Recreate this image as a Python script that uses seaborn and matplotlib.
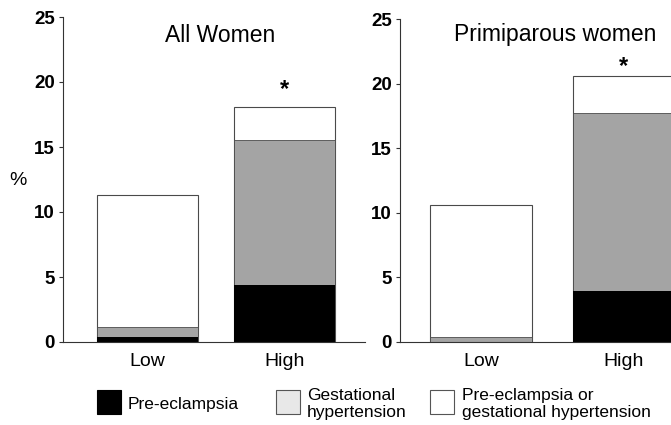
import numpy as np
import pandas as pd
import matplotlib
matplotlib.use('Agg')
import matplotlib.pyplot as plt
from matplotlib.patches import Rectangle
import seaborn as sns

# ---------------------------------------------------------------------------
# data (percent)
# ---------------------------------------------------------------------------
groups = ['Low', 'High']

all_pre_eclampsia = [0.35, 4.35]
all_gestational = [0.83, 11.2]
all_total = [11.3, 18.05]          # pre-eclampsia or gestational hypertension

prim_pre_eclampsia = [0.0, 3.95]
prim_gestational = [0.36, 13.75]
prim_total = [10.6, 20.6]

y_ticks = [0, 5, 10, 15, 20, 25]

# ---------------------------------------------------------------------------
# style
# ---------------------------------------------------------------------------
sns.set_theme(style='white')
plt.rcParams['font.family'] = ['Liberation Sans', 'DejaVu Sans']
plt.rcParams['text.color'] = 'black'
plt.rcParams['xtick.color'] = 'black'
plt.rcParams['ytick.color'] = 'black'
plt.rcParams['xtick.labelcolor'] = 'black'
plt.rcParams['ytick.labelcolor'] = 'black'

W, H = 671, 425
fig = plt.figure(figsize=(W / 100, H / 100), dpi=100)


def fx(px):
    return px / W


def fy(py):
    return 1 - py / H


BAR_GREY = '#a4a4a4'
EDGE = '#4a4a4a'


def draw_panel(ax, pe, gh, total, width, title, title_xy, star_xy, xlim):
    df = pd.DataFrame({'group': groups,
                       'pe': pe,
                       'pe_gh': np.add(pe, gh),
                       'total': total})
    # back to front: total (white), gestational on top of pre-eclampsia (grey), pre-eclampsia (black)
    sns.barplot(data=df, x='group', y='total', color='white', saturation=1,
                width=width, edgecolor=EDGE, linewidth=0.8, ax=ax)
    sns.barplot(data=df, x='group', y='pe_gh', color=BAR_GREY, saturation=1,
                width=width, edgecolor=EDGE, linewidth=0.6, ax=ax)
    sns.barplot(data=df, x='group', y='pe', color='black', saturation=1,
                width=width, edgecolor='none', linewidth=0, ax=ax)

    ax.set_xlim(*xlim)
    ax.set_ylim(0, 25)
    ax.set_yticks(y_ticks)
    ax.set_xlabel('')
    ax.set_ylabel('')
    for s in ['top', 'right']:
        ax.spines[s].set_visible(False)
    for s in ['left', 'bottom']:
        ax.spines[s].set_color('#333333')
        ax.spines[s].set_linewidth(0.8)
    ax.tick_params(axis='y', left=True, length=3, width=0.8, color='#333333',
                   pad=3, labelsize=13.5)
    ax.tick_params(axis='x', bottom=False, length=0, pad=8, labelsize=14)
    for lab in ax.get_yticklabels():
        lab.set_fontweight('bold')
    ax.set_facecolor('none')

    ax.text(title_xy[0], title_xy[1], title, ha='center', va='center',
            fontsize=16.5)
    ax.text(star_xy[0], star_xy[1], '*', ha='center', va='center',
            fontsize=17, fontweight='bold')


# left panel: All Women
ax1 = fig.add_axes([fx(63), fy(342), fx(365) - fx(63), fy(17) - fy(342)])
draw_panel(ax1, all_pre_eclampsia, all_gestational, all_total,
           width=0.737, title='All Women', title_xy=(0.53, 23.6),
           star_xy=(1.0, 19.4), xlim=(-0.617, 1.588))

# right panel: Primiparous women
ax2 = fig.add_axes([fx(400), fy(342), fx(671) - fx(400), fy(19) - fy(342)])
draw_panel(ax2, prim_pre_eclampsia, prim_gestational, prim_total,
           width=0.71, title='Primiparous women', title_xy=(0.52, 23.8),
           star_xy=(1.0, 21.3), xlim=(-0.568, 1.333))

fig.text(fx(18), fy(180), '%', ha='center', va='center', fontsize=14)

# ---------------------------------------------------------------------------
# legend (drawn by hand to keep the original spacing)
# ---------------------------------------------------------------------------
legend_items = [
    (97, 'black', 'Pre-eclampsia', 128),
    (276, '#e8e8e8', 'Gestational\nhypertension', 307),
    (430, 'white', 'Pre-eclampsia or\ngestational hypertension', 462),
]
for sq_x, fc, label, tx in legend_items:
    fig.add_artist(Rectangle((fx(sq_x), fy(414)), fx(24), 24 / H,
                             transform=fig.transFigure, facecolor=fc,
                             edgecolor='#555555' if fc != 'black' else 'black',
                             linewidth=0.8))
    fig.text(fx(tx), fy(404), label, ha='left', va='center', fontsize=12.5,
             linespacing=1.2)

plt.savefig('out.png', dpi=100)
plt.close()
